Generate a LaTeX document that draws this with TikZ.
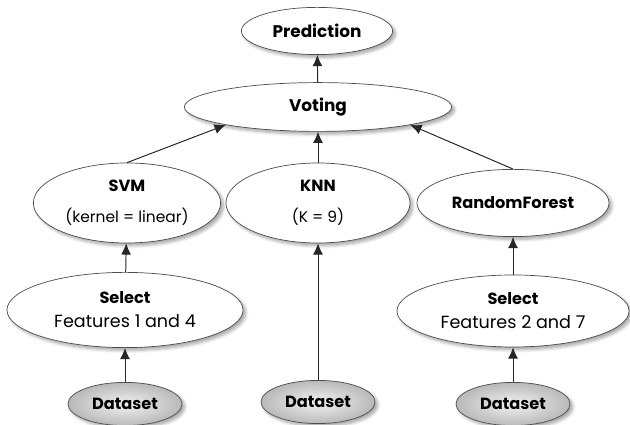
\documentclass[tikz,border=0pt]{standalone}
\usepackage{fontspec}
\setmainfont{Poppins}
\usepackage{tikz}
\usetikzlibrary{positioning,arrows.meta,shapes,shadows.blur}

\tikzset{
  oval/.style={ellipse, draw=black!70, line width=0.5pt, fill=white, inner sep=0pt,
    blur shadow={shadow xshift=2pt, shadow yshift=-2pt, shadow opacity=35, shadow blur steps=6}},
  datanode/.style={oval, inner color=gray!10, outer color=gray!55,
    minimum width=2.85cm, minimum height=1.08cm, font=\fontsize{11.5}{14}\selectfont\bfseries},
  link/.style={-{Latex[length=2.8mm,width=2.5mm]}, line width=0.7pt, black!85}
}

\begin{document}
\begin{tikzpicture}[x=0.025cm,y=0.025cm]

\useasboundingbox (0,0) rectangle (630,425);

\node[oval, minimum width=3.78cm, minimum height=1.18cm, font=\fontsize{12}{14}\selectfont\bfseries] (pred) at (317,394) {Prediction};
\node[oval, minimum width=6.68cm, minimum height=1.22cm, font=\fontsize{12}{14}\selectfont\bfseries] (vote) at (318,318) {Voting};

\node[oval, minimum width=4.68cm, minimum height=2cm, align=center] (svm) at (127,222)
  {\fontsize{11.5}{14}\selectfont\bfseries SVM\\[10pt] \fontsize{11}{13}\selectfont (kernel = linear)};
\node[oval, minimum width=4.6cm, minimum height=2cm, align=center] (knn) at (318,222)
  {\fontsize{11.5}{14}\selectfont\bfseries KNN\\[10pt] \fontsize{11}{13}\selectfont (K = 9)};
\node[oval, minimum width=4.8cm, minimum height=1.68cm, font=\fontsize{11.5}{14}\selectfont\bfseries] (rf) at (513,222) {RandomForest};

\node[oval, minimum width=5.9cm, minimum height=1.88cm, align=center] (selA) at (125,115)
  {\fontsize{11.5}{14}\selectfont\bfseries Select\\[5pt] \fontsize{12.5}{15}\selectfont Features 1 and 4};
\node[oval, minimum width=5.8cm, minimum height=1.8cm, align=center] (selB) at (513,114)
  {\fontsize{11.5}{14}\selectfont\bfseries Select\\[5pt] \fontsize{12.5}{15}\selectfont Features 2 and 7};

\node[datanode] (dataA) at (125,21) {Dataset};
\node[datanode] (dataB) at (318,23) {Dataset};
\node[datanode] (dataC) at (513,21) {Dataset};

% arrows, bottom to top
\draw[link] (dataA) -- (selA);
\draw[link] (dataC) -- (selB);
\draw[link] (selA) -- (svm);
\draw[link] (selB) -- (rf);
\draw[link] (dataB) -- (knn);
\draw[link] (svm.north) -- (vote.191);
\draw[link] (knn) -- (vote);
\draw[link] (rf.north) -- (vote.349);
\draw[link] (vote) -- (pred);

\end{tikzpicture}
\end{document}
